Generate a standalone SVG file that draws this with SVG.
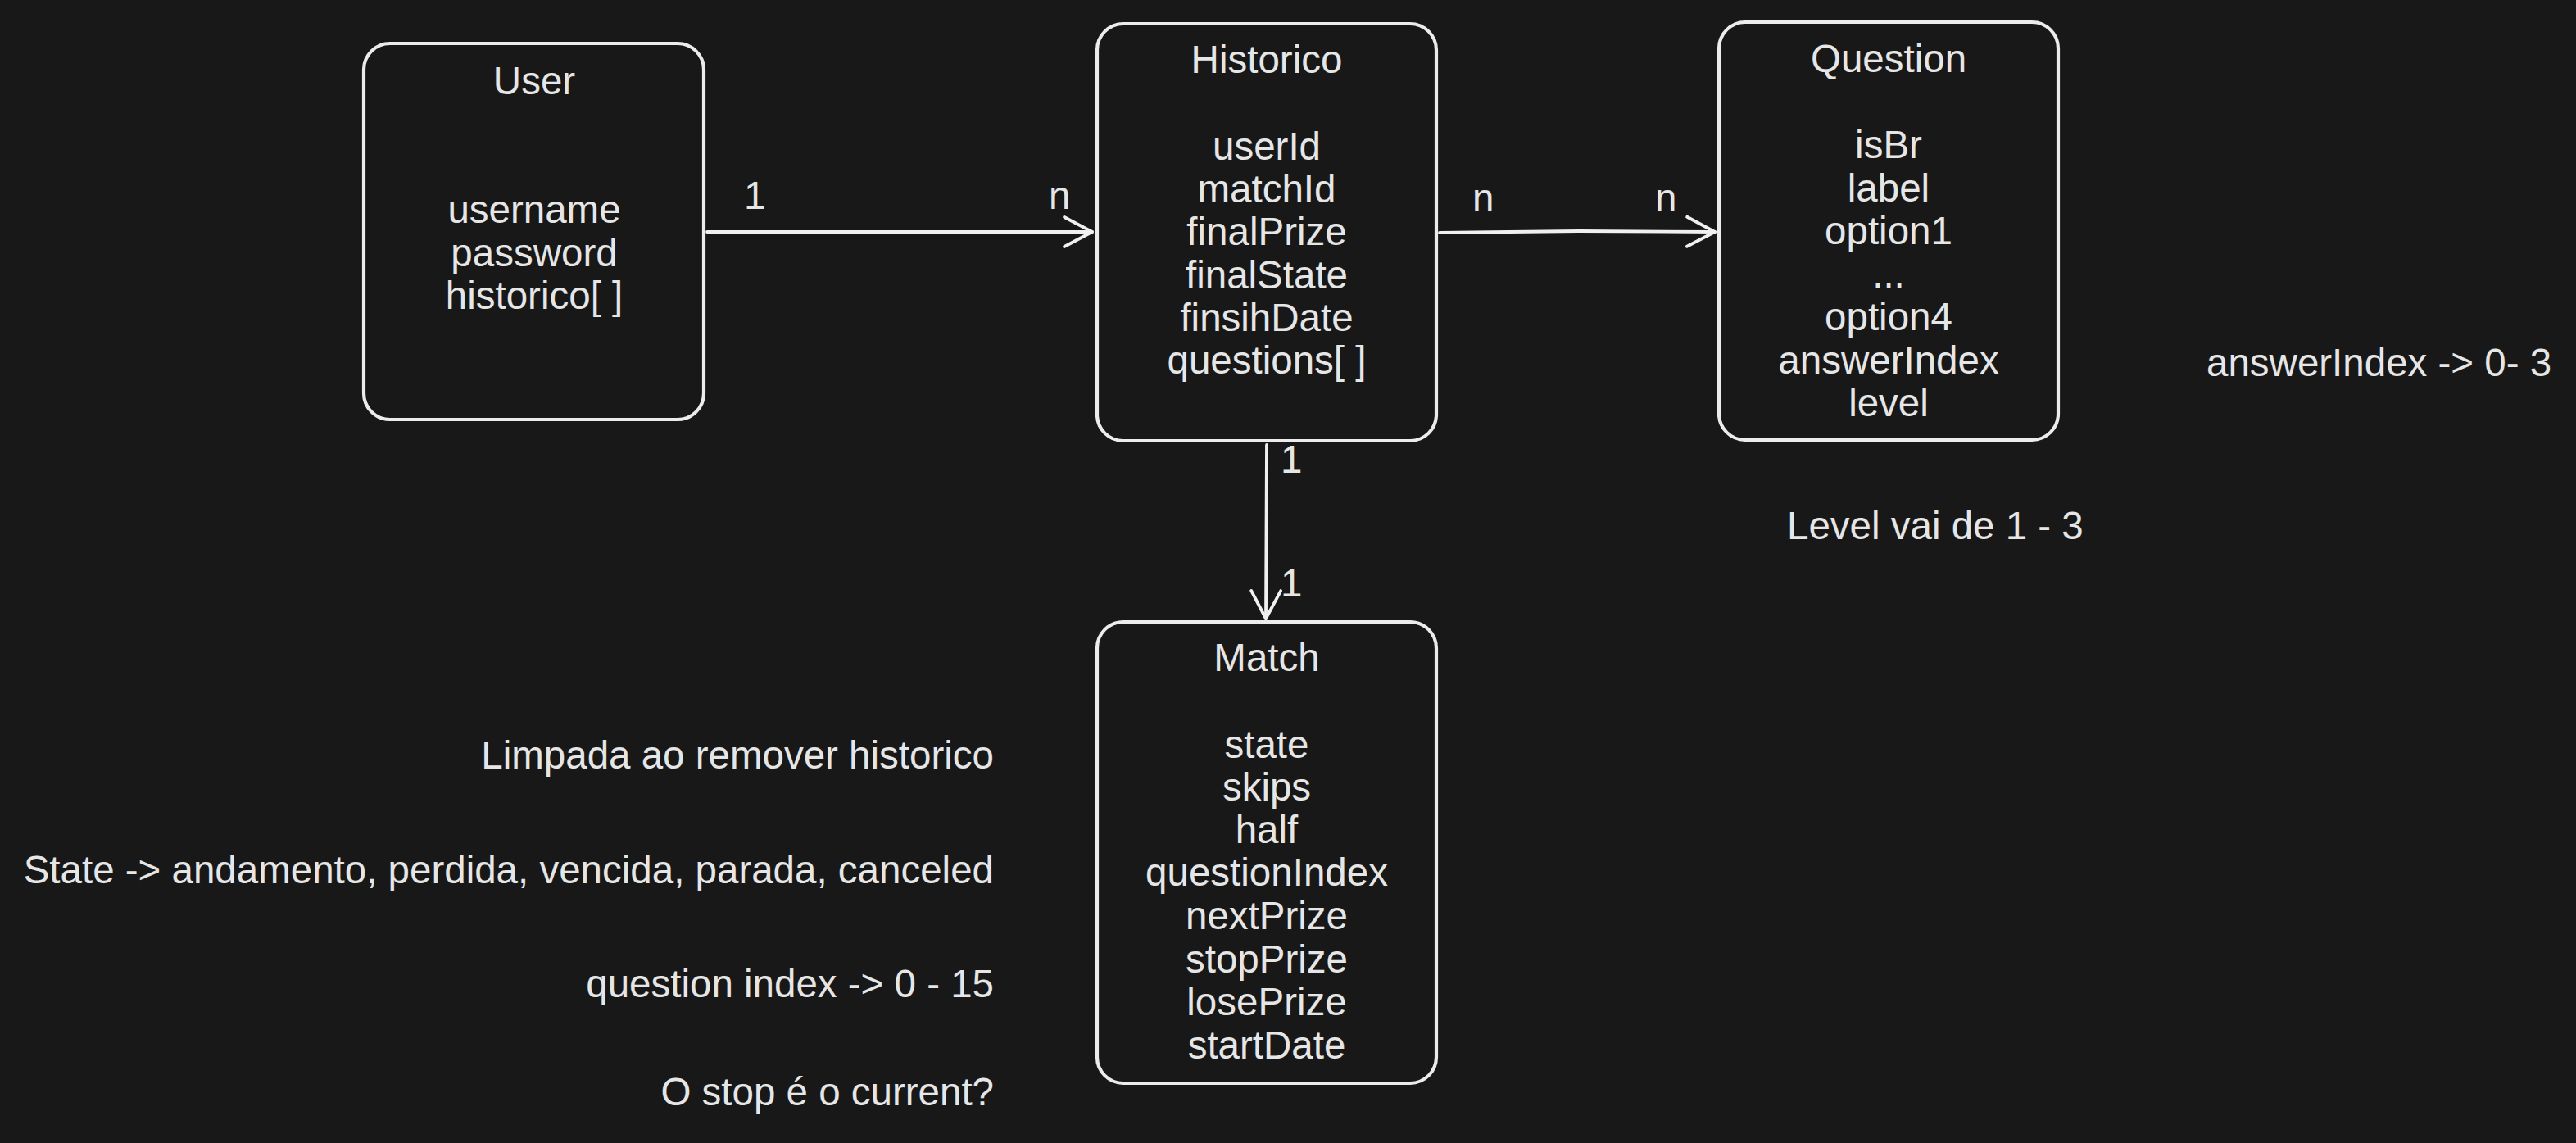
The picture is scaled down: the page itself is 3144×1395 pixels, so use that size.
<svg xmlns="http://www.w3.org/2000/svg" width="3144" height="1395" viewBox="0 0 3144 1395">
<style>
.bg{fill:#181818}
.box{fill:none;stroke:#ececec;stroke-width:4.2;stroke-linejoin:round}
.t{font-family:"Liberation Sans",Arial,Helvetica,sans-serif;font-size:47.5px;fill:#e6e6e6}
.c{text-anchor:middle}
.r{text-anchor:end}
.ln{fill:none;stroke:#f0f0f0;stroke-width:3.8;stroke-linecap:round;stroke-linejoin:round}
</style>
<defs>
<marker id="arr" markerUnits="userSpaceOnUse" viewBox="-40 -22 44 44" refX="0" refY="0" markerWidth="44" markerHeight="44" orient="auto">
<path d="M-34,-18 L0,0 L-34,18" fill="none" stroke="#f0f0f0" stroke-width="3.8" stroke-linecap="round" stroke-linejoin="round"/>
</marker>
</defs>
<rect class="bg" x="0" y="0" width="3144" height="1395"/>

<g id="connectors">
<path class="ln" d="M863,283 L1333,283" marker-end="url(#arr)"/>
<path class="ln" d="M1757,284 L1927,282 L2093,283" marker-end="url(#arr)"/>
<path class="ln" d="M1546,543 L1545,755" marker-end="url(#arr)"/>
<text class="t" x="908" y="255">1</text>
<text class="t" x="1280" y="255">n</text>
<text class="t" x="1797" y="258">n</text>
<text class="t" x="2020" y="258">n</text>
<text class="t" x="1563" y="577">1</text>
<text class="t" x="1563" y="728">1</text>
</g>

<g id="user">
<rect class="box" x="444" y="53" width="415" height="459" rx="32"/>
<text class="t c" x="652" y="115">User</text>
<text class="t c" x="652" y="272">username</text>
<text class="t c" x="652" y="325">password</text>
<text class="t c" x="652" y="377">historico[ ]</text>
</g>

<g id="historico">
<rect class="box" x="1339" y="29" width="414" height="509" rx="32"/>
<text class="t c" x="1546" y="89">Historico</text>
<text class="t c" x="1546" y="195">userId</text>
<text class="t c" x="1546" y="247">matchId</text>
<text class="t c" x="1546" y="299">finalPrize</text>
<text class="t c" x="1546" y="352">finalState</text>
<text class="t c" x="1546" y="404">finsihDate</text>
<text class="t c" x="1546" y="456">questions[ ]</text>
</g>

<g id="question">
<rect class="box" x="2098" y="27" width="414" height="510" rx="32"/>
<text class="t c" x="2305" y="88">Question</text>
<text class="t c" x="2305" y="193">isBr</text>
<text class="t c" x="2305" y="246">label</text>
<text class="t c" x="2305" y="298">option1</text>
<text class="t c" x="2305" y="351">...</text>
<text class="t c" x="2305" y="403">option4</text>
<text class="t c" x="2305" y="456">answerIndex</text>
<text class="t c" x="2305" y="508">level</text>
</g>

<g id="match">
<rect class="box" x="1339" y="759" width="414" height="563" rx="32"/>
<text class="t c" x="1546" y="819">Match</text>
<text class="t c" x="1546" y="925">state</text>
<text class="t c" x="1546" y="977">skips</text>
<text class="t c" x="1546" y="1029">half</text>
<text class="t c" x="1546" y="1081">questionIndex</text>
<text class="t c" x="1546" y="1134">nextPrize</text>
<text class="t c" x="1546" y="1187">stopPrize</text>
<text class="t c" x="1546" y="1239">losePrize</text>
<text class="t c" x="1546" y="1292">startDate</text>
</g>

<g id="notes">
<text class="t" x="2693" y="459">answerIndex -&gt; 0- 3</text>
<text class="t" x="2181" y="658">Level vai de 1 - 3</text>
<text class="t r" x="1213" y="938">Limpada ao remover historico</text>
<text class="t r" x="1213" y="1078">State -&gt; andamento, perdida, vencida, parada, canceled</text>
<text class="t r" x="1213" y="1217">question index -&gt; 0 - 15</text>
<text class="t r" x="1213" y="1349">O stop é o current?</text>
</g>
</svg>
